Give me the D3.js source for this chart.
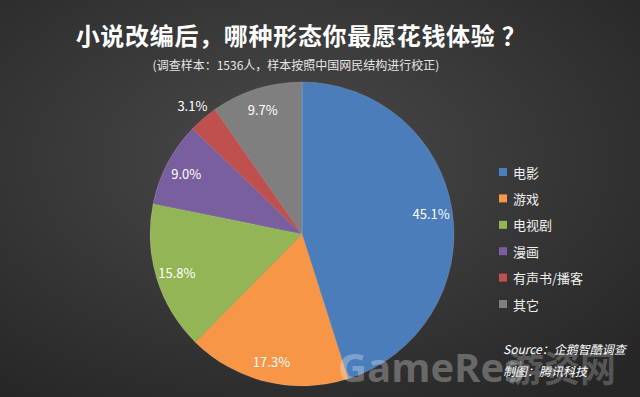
<!DOCTYPE html>
<html>
<head>
<meta charset="utf-8">
<script src="https://cdn.jsdelivr.net/npm/d3@7"></script>
<style>
  html, body { margin: 0; padding: 0; background: #333; }
  svg { display: block; }
</style>
</head>
<body>
<div id="chart"></div>
<script>
const categories = ['电影', '游戏', '电视剧', '漫画', '有声书/播客', '其它'];
const values = [45.1, 17.3, 15.8, 9.0, 3.1, 9.7];
const colors = ['#4a7dba', '#f79646', '#93b556', '#7a5f9f', '#c0504d', '#7f7f7f'];

const width = 640, height = 397;
const cx = 302, cy = 234, radius = 152;

const svg = d3.select('#chart').append('svg')
  .attr('width', width)
  .attr('height', height);

// background: dark radial glow
const defs = svg.append('defs');
const bg = defs.append('radialGradient')
  .attr('id', 'bg')
  .attr('cx', '45%').attr('cy', '40%').attr('r', '75%');
bg.append('stop').attr('offset', '0%').attr('stop-color', '#4a4a4a');
bg.append('stop').attr('offset', '100%').attr('stop-color', '#262626');
svg.append('rect').attr('width', width).attr('height', height).attr('fill', 'url(#bg)');

const font = '"Microsoft YaHei", "Noto Sans CJK SC", "Noto Sans", sans-serif';

// title
svg.append('text')
  .attr('x', 301).attr('y', 45)
  .attr('text-anchor', 'middle')
  .attr('fill', '#fff')
  .attr('font-family', font)
  .attr('font-weight', 'bold')
  .attr('font-size', 24)
  .attr('letter-spacing', 0.7)
  .text('小说改编后，哪种形态你最愿花钱体验 ？');

svg.append('text')
  .attr('x', 296).attr('y', 70)
  .attr('text-anchor', 'middle')
  .attr('fill', '#e6e6e6')
  .attr('font-family', font)
  .attr('font-size', 12)
  .text('(调查样本：1536人，样本按照中国网民结构进行校正)');

// pie
const pie = d3.pie().sort(null).value(d => d);
const arcs = pie(values);
const arc = d3.arc().innerRadius(0).outerRadius(radius);
const labelArc = d3.arc().innerRadius(radius * 0.86).outerRadius(radius * 0.86);
const outerLabelArc = d3.arc().innerRadius(radius * 1.11).outerRadius(radius * 1.11);

const g = svg.append('g').attr('transform', `translate(${cx},${cy})`);

g.selectAll('path')
  .data(arcs)
  .enter()
  .append('path')
  .attr('d', arc)
  .attr('fill', (d, i) => colors[i])
  .attr('stroke', 'rgba(255,255,255,0.25)')
  .attr('stroke-width', 0.5);

g.selectAll('text.val')
  .data(arcs)
  .enter()
  .append('text')
  .attr('class', 'val')
  .attr('transform', d => {
    const p = (d.data < 5 ? outerLabelArc : labelArc).centroid(d);
    return `translate(${p[0]},${p[1]})`;
  })
  .attr('text-anchor', 'middle')
  .attr('dominant-baseline', 'central')
  .attr('fill', '#fff')
  .attr('font-family', font)
  .attr('font-size', 13)
  .text(d => d.data.toFixed(1) + '%');

// legend
const legend = svg.append('g').attr('transform', 'translate(499,172)');
const item = legend.selectAll('g')
  .data(categories)
  .enter()
  .append('g')
  .attr('transform', (d, i) => `translate(0,${i * 26.4})`);

item.append('rect')
  .attr('x', 0).attr('y', -4)
  .attr('width', 8).attr('height', 8)
  .attr('fill', (d, i) => colors[i]);

item.append('text')
  .attr('x', 14).attr('y', 0)
  .attr('dominant-baseline', 'central')
  .attr('fill', '#f0f0f0')
  .attr('font-family', font)
  .attr('font-size', 13)
  .text(d => d);

// watermark
svg.append('text')
  .attr('x', 338).attr('y', 382)
  .attr('fill', '#fff')
  .attr('fill-opacity', 0.28)
  .attr('font-family', '"Open Sans", "Noto Sans", sans-serif')
  .attr('font-weight', 'bold')
  .attr('font-size', 40)
  .text('GameRes');
svg.append('text')
  .attr('x', 508).attr('y', 382)
  .attr('fill', '#fff')
  .attr('fill-opacity', 0.22)
  .attr('font-family', font)
  .attr('font-weight', 'bold')
  .attr('font-size', 36)
  .text('游资网');

// source
svg.append('text')
  .attr('x', 503).attr('y', 354)
  .attr('fill', '#fff')
  .attr('font-family', font)
  .attr('font-style', 'italic')
  .attr('font-size', 12)
  .text('Source：企鹅智酷调查');
svg.append('text')
  .attr('x', 503).attr('y', 376)
  .attr('fill', '#fff')
  .attr('font-family', font)
  .attr('font-style', 'italic')
  .attr('font-size', 12)
  .text('制图：腾讯科技');
</script>
</body>
</html>
